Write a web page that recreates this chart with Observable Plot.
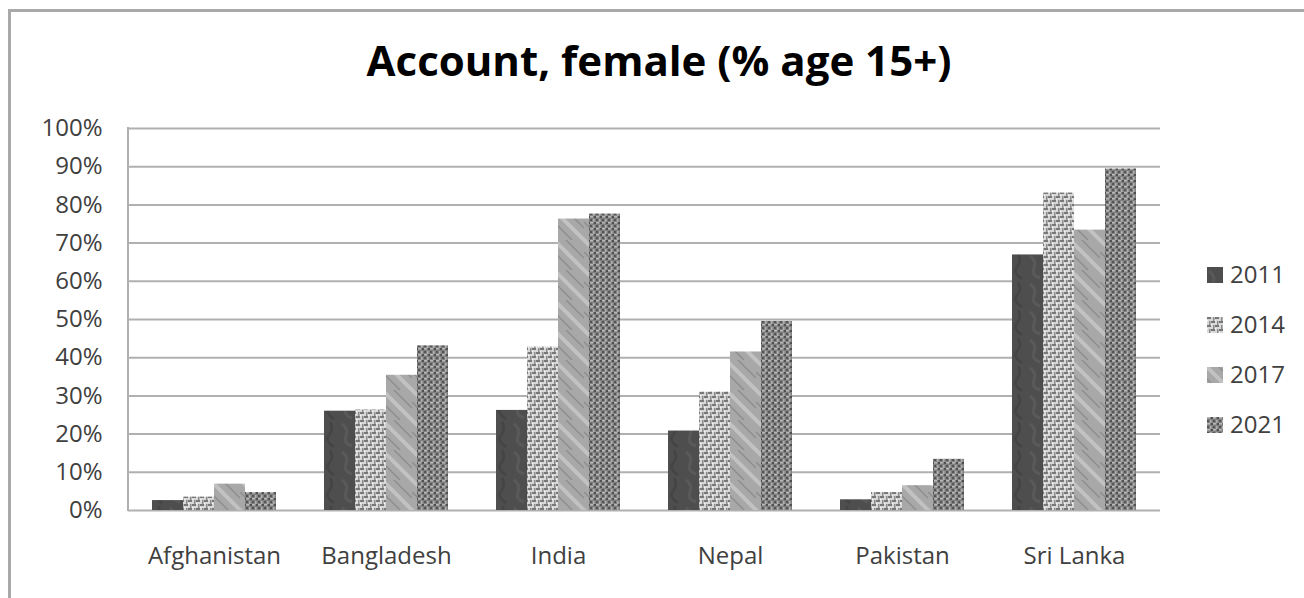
<!DOCTYPE html>
<html>
<head>
<meta charset="utf-8">
<script src="https://cdn.jsdelivr.net/npm/d3@7"></script>
<script src="https://cdn.jsdelivr.net/npm/@observablehq/plot@0.6"></script>
<style>
html, body { margin: 0; padding: 0; background: #fff; overflow: hidden; }
#wrap { position: relative; width: 1304px; height: 598px; overflow: hidden; font-family: "Open Sans", sans-serif; }
#border { position: absolute; left: 8px; top: 9px; width: 1400px; height: 800px; border: 3px solid #a9a9a9; box-sizing: border-box; }
#chart { position: absolute; left: 0; top: 0; }
#title { position: absolute; left: 0; top: 39px; width: 1318px; text-align: center; font-weight: 700; font-size: 42px; line-height: 42px; color: #000; white-space: nowrap; }
.leg { position: absolute; left: 1207px; height: 24px; font-size: 24px; line-height: 24px; color: #404040; white-space: nowrap; }
.leg svg { position: absolute; left: 0; top: 5px; }
.leg span { position: absolute; left: 23px; top: 0; }
</style>
</head>
<body>
<div id="wrap">
  <div id="border"></div>
  <div id="chart"></div>
  <div id="title">Account, female (% age 15+)</div>
  <div id="legend"></div>
</div>
<script>
const countries = ["Afghanistan", "Bangladesh", "India", "Nepal", "Pakistan", "Sri Lanka"];
const years = ["2011", "2014", "2017", "2021"];
const v2011 = [2.6, 26.0, 26.2, 20.8, 2.8, 66.9];
const v2014 = [3.5, 26.3, 42.8, 31.0, 4.7, 83.1];
const v2017 = [6.9, 35.4, 76.3, 41.5, 6.5, 73.4];
const v2021 = [4.7, 43.1, 77.6, 49.5, 13.4, 89.4];
const yTicks = [0, 10, 20, 30, 40, 50, 60, 70, 80, 90, 100];

const byYear = {"2011": v2011, "2014": v2014, "2017": v2017, "2021": v2021};
const data = years.flatMap(yr => countries.map((c, i) => ({country: c, year: yr, value: byYear[yr][i]})));

const plot = Plot.plot({
  width: 1304,
  height: 598,
  marginLeft: 128,
  marginRight: 144,
  marginTop: 128,
  marginBottom: 88,
  style: {fontFamily: '"Open Sans", sans-serif', fontSize: "24px", color: "#404040", background: "transparent", overflow: "visible"},
  fx: {domain: countries, padding: 0, label: null},
  x: {domain: years, paddingInner: 0, paddingOuter: 0.73, axis: null},
  y: {domain: [0, 100], label: null},
  color: {domain: years, range: years.map(y => `url(#p${y})`)},
  marks: [
    Plot.ruleY(yTicks, {stroke: "#b0b0b0", strokeWidth: 2}),
    Plot.barY(data, {fx: "country", x: "year", y: "value", fill: "year"}),
    Plot.axisY(yTicks, {tickSize: 0, tickPadding: 26, tickFormat: d => d + "%", fontSize: 24, label: null}),
    Plot.axisFx({anchor: "bottom", tickSize: 0, tickPadding: 36, fontSize: 24, label: null})
  ]
});

const defs = `
<pattern id="p2011" width="28" height="28" patternUnits="userSpaceOnUse">
  <rect width="28" height="28" fill="#4e4e4e"/>
  <path d="M2 4 Q9 9 6 16 T12 26" stroke="#595959" stroke-width="3" fill="none"/>
  <path d="M18 2 Q22 10 17 15 T22 27" stroke="#454545" stroke-width="3" fill="none"/>
</pattern>
<pattern id="p2014" width="8" height="8" patternUnits="userSpaceOnUse">
  <rect width="8" height="8" fill="#d8d8d8"/>
  <rect x="0" y="0" width="4" height="2" fill="#777777"/>
  <rect x="4" y="4" width="4" height="2" fill="#777777"/>
  <rect x="6" y="0" width="1.5" height="4" fill="#8c8c8c"/>
  <rect x="2" y="4" width="1.5" height="4" fill="#8c8c8c"/>
  <rect x="0" y="3" width="1" height="1" fill="#fafafa"/>
  <rect x="4" y="7" width="1" height="1" fill="#fafafa"/>
</pattern>
<pattern id="p2017" width="30" height="30" patternUnits="userSpaceOnUse">
  <rect width="30" height="30" fill="#a8a8a8"/>
  <path d="M0 0 L30 30 M-15 15 L15 45 M15 -15 L45 15" stroke="#c2c2c2" stroke-width="4"/>
  <path d="M0 12 L18 30 M12 0 L30 18" stroke="#8e8e8e" stroke-width="1.5"/>
</pattern>
<pattern id="p2021" width="6" height="6" patternUnits="userSpaceOnUse">
  <rect width="6" height="6" fill="#808080"/>
  <rect x="0" y="0" width="3" height="1.5" fill="#b8b8b8"/>
  <rect x="3" y="3" width="1.5" height="3" fill="#b0b0b0"/>
  <rect x="4" y="0" width="2" height="2" fill="#505050"/>
  <rect x="0" y="3" width="2" height="2" fill="#555555"/>
</pattern>`;
d3.select(plot).insert("defs", ":first-child").html(defs);

// left axis line drawn from the plot's y scale
const ys = plot.scale("y");
d3.select(plot).append("line")
  .attr("x1", 128).attr("x2", 128)
  .attr("y1", ys.apply(0) + 1).attr("y2", ys.apply(100) - 1)
  .attr("stroke", "#b0b0b0").attr("stroke-width", 2);

document.getElementById("chart").appendChild(plot);

const legend = document.getElementById("legend");
years.forEach((yr, i) => {
  const row = document.createElement("div");
  row.className = "leg";
  row.style.top = (262 + i * 50) + "px";
  row.innerHTML = `<svg width="16" height="16"><rect width="16" height="16" fill="url(#p${yr})"/></svg><span>${yr}</span>`;
  legend.appendChild(row);
});
</script>
</body>
</html>
